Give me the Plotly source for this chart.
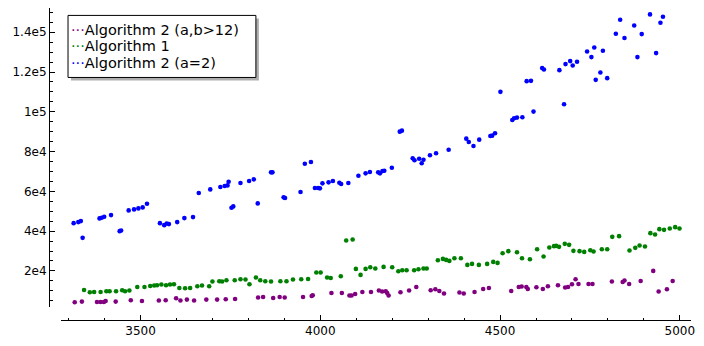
import plotly.graph_objects as go

# Algorithm 2 (a=2)
a2_x = [3314, 3327, 3334, 3339, 3386, 3392, 3399, 3418, 3442, 3446,
        3467, 3482, 3494, 3506, 3518, 3554, 3566, 3573, 3579, 3602,
        3622, 3646, 3662, 3694, 3722, 3734, 3742, 3745, 3753, 3758,
        3778, 3802, 3815, 3826, 3863, 3867, 3898, 3902, 3945, 3957,
        3974, 3985, 3994, 3999, 4006, 4023, 4035, 4053, 4058, 4078,
        4106, 4126, 4138, 4161, 4166, 4173, 4178, 4199, 4221, 4227,
        4257, 4262, 4275, 4282, 4287, 4305, 4322, 4357, 4406, 4413,
        4426, 4442, 4473, 4478, 4486, 4501, 4534, 4539, 4547, 4562,
        4574, 4586, 4593, 4617, 4622, 4665, 4678, 4682, 4695, 4702,
        4714, 4742, 4754, 4762, 4766, 4779, 4786, 4798, 4822, 4834,
        4846, 4873, 4882, 4894, 4917, 4934, 4946, 4953]
a2_y = [44030, 44540, 45040, 36630, 46400, 46700, 47200, 48060, 40000, 40350,
        50420, 50930, 51440, 51940, 53760, 44030, 43020, 43870, 43530, 44540,
        46550, 47050, 59150, 61000, 62170, 62670, 63010, 64850, 51760, 52440,
        64180, 65190, 66040, 53950, 69570, 69570, 56980, 56630, 59650, 73910,
        74760, 61660, 61660, 61510, 64030, 64530, 65190, 64340, 63680, 64180,
        67870, 69070, 69730, 69570, 69070, 70230, 70400, 71900, 90030, 90540,
        76630, 75620, 76430, 74110, 75920, 78140, 79150, 80960, 86500, 84840,
        82820, 86000, 87860, 88010, 89220, 110030, 95920, 96780, 97100, 97280,
        115420, 115570, 100100, 121970, 121270, 120960, 103830, 123990, 125500, 123280,
        125140, 130330, 127510, 132350, 116070, 119750, 130680, 116930, 139250, 146300,
        137080, 143430, 127510, 139080, 148970, 129530, 144790, 147810]

# Algorithm 1
a1_x = [3343, 3359, 3371, 3389, 3405, 3414, 3432, 3449, 3457, 3469,
        3491, 3511, 3527, 3538, 3546, 3558, 3571, 3582, 3593, 3608,
        3624, 3638, 3658, 3671, 3691, 3700, 3719, 3727, 3739, 3762,
        3778, 3792, 3803, 3821, 3833, 3847, 3863, 3889, 3906, 3924,
        3947, 3966, 3989, 4001, 4019, 4029, 4057, 4072, 4090, 4099,
        4112, 4126, 4139, 4153, 4176, 4200, 4217, 4228, 4240, 4261,
        4273, 4287, 4296, 4327, 4341, 4350, 4359, 4373, 4391, 4409,
        4422, 4441, 4464, 4481, 4493, 4507, 4523, 4547, 4561, 4583,
        4603, 4621, 4637, 4650, 4656, 4664, 4680, 4692, 4704, 4721,
        4734, 4751, 4760, 4783, 4798, 4812, 4831, 4860, 4876, 4888,
        4903, 4918, 4931, 4943, 4956, 4972, 4987, 4999]
a1_y = [10430, 9270, 9420, 9420, 9770, 9770, 9770, 10280, 9770, 10130,
        11940, 11940, 12440, 12650, 12800, 13150, 12800, 13150, 13300, 11440,
        11290, 11440, 12290, 12650, 12290, 14660, 14810, 14660, 15320, 15320,
        15820, 15670, 13300, 16680, 15320, 14810, 14660, 14810, 14810, 15670,
        15820, 15970, 19190, 19190, 16680, 16470, 17330, 35320, 35820, 21010,
        17990, 21010, 21860, 21210, 22020, 21860, 19850, 20350, 20350, 20350,
        20860, 21210, 21210, 25390, 26050, 25540, 25040, 26400, 26400, 23020,
        23530, 23020, 23530, 24530, 24030, 28920, 29930, 29420, 26400, 25890,
        30930, 27260, 31790, 32450, 32600, 32090, 33600, 33100, 30080, 29930,
        29570, 30430, 29770, 30930, 30930, 37130, 37480, 30280, 31590, 32800,
        32290, 38990, 38340, 41010, 40660, 41360, 42020, 41360]

# Algorithm 2 (a,b>12)
ab_x = [3317, 3337, 3379, 3389, 3398, 3403, 3431, 3473, 3504, 3551,
        3570, 3599, 3611, 3629, 3649, 3683, 3713, 3737, 3763, 3827,
        3841, 3869, 3887, 3901, 3952, 3976, 3979, 4031, 4060, 4081,
        4087, 4097, 4117, 4141, 4163, 4172, 4182, 4186, 4190, 4223,
        4247, 4267, 4307, 4320, 4331, 4344, 4387, 4399, 4429, 4453,
        4469, 4531, 4552, 4560, 4573, 4577, 4601, 4619, 4633, 4661,
        4681, 4689, 4700, 4710, 4718, 4746, 4757, 4811, 4841, 4846,
        4859, 4891, 4926, 4941, 4964, 4980]
ab_y = [4230, 4580, 4380, 4380, 4380, 4890, 4580, 5240, 4890, 5090,
        5240, 6250, 5090, 5590, 5090, 5590, 5590, 5740, 5890, 6600,
        6900, 6400, 6900, 6600, 6900, 7410, 7760, 8920, 8920, 7610,
        7610, 8410, 9420, 9420, 10130, 9620, 9770, 8920, 7610, 9270,
        10130, 11940, 10280, 10780, 9920, 8620, 9120, 8620, 9420, 10930,
        11440, 9920, 11940, 12140, 11940, 10930, 11790, 10930, 12290, 12800,
        11640, 11940, 13300, 15820, 13450, 13450, 13450, 14660, 14460, 15160,
        13450, 14960, 20000, 9620, 10780, 14960]

x_ticks = [3500, 4000, 4500, 5000]
y_ticks = [20000, 40000, 60000, 80000, 100000, 120000, 140000]
y_labels = ["2e4", "4e4", "6e4", "8e4", "1e5", "1.2e5", "1.4e5"]

series = [
    ("Algorithm 2 (a,b&gt;12)", ab_x, ab_y, "#800080"),
    ("Algorithm 1", a1_x, a1_y, "#008000"),
    ("Algorithm 2 (a=2)", a2_x, a2_y, "#0000ff"),
]

# page pixels -> paper fractions (margins below)
ML, MR, MT, MB = 49.3, 13.3, 8.3, 26
W, H = 704, 346
PW, PH = W - ML - MR, H - MT - MB


def px_x(p):
    return (p - ML) / PW


def px_y(p):
    return (H - MB - p) / PH


FONT = "DejaVu Sans"

fig = go.Figure()
for name, xs, ys, col in series:
    fig.add_trace(go.Scatter(x=xs, y=ys, mode="markers", name=name,
                             marker=dict(color=col, size=4.6, line=dict(width=0)),
                             showlegend=False))

fig.update_layout(
    width=W, height=H, autosize=False,
    margin=dict(l=ML, r=MR, t=MT, b=MB, pad=0),
    paper_bgcolor="white", plot_bgcolor="white",
    font=dict(family=FONT, size=12, color="#000"),
    xaxis=dict(range=[3280, 5031], domain=[px_x(61.7), 1], anchor="free", position=0,
               showgrid=False, zeroline=False, showline=True, linecolor="#000", linewidth=1,
               tickvals=x_ticks, ticks="inside", ticklen=5, tickcolor="#000",
               minor=dict(dtick=100, tick0=3300, ticks="inside", ticklen=2.5,
                          tickcolor="#000", showgrid=False)),
    yaxis=dict(range=[1713, 152200], domain=[px_y(307.3), 1], anchor="free", position=0,
               showgrid=False, zeroline=False, showline=True, linecolor="#000", linewidth=1,
               tickvals=y_ticks, ticktext=y_labels, ticks="inside", ticklen=5, tickcolor="#000",
               minor=dict(dtick=5000, tick0=0, ticks="inside", ticklen=2.5,
                          tickcolor="#000", showgrid=False)),
)

# legend box with shadow
fig.add_shape(type="rect", xref="paper", yref="paper",
              x0=px_x(71.3), x1=px_x(259), y0=px_y(18.7), y1=px_y(80.7),
              fillcolor="rgba(120,120,120,0.6)", line=dict(width=0), layer="above")
fig.add_shape(type="rect", xref="paper", yref="paper",
              x0=px_x(68.3), x1=px_x(256), y0=px_y(15.7), y1=px_y(77.7),
              fillcolor="white", line=dict(color="#000", width=1), layer="above")

row_y = [30.2, 46.7, 63.2]
for (name, xs, ys, col), ry in zip(series, row_y):
    fig.add_annotation(xref="paper", yref="paper", x=px_x(70), y=px_y(ry),
                       xanchor="left", yanchor="middle", showarrow=False, borderpad=0,
                       text=f"<span style='color:{col}'>\u00b7\u00b7\u00b7</span>{name}",
                       font=dict(family=FONT, size=14.5, color="#000"))

# the page body has a default 8px margin; drop it so the figure sits at 0,0
fig.write_html("out.html", config={"displayModeBar": False},
               post_script="document.body.style.margin='0px';")
